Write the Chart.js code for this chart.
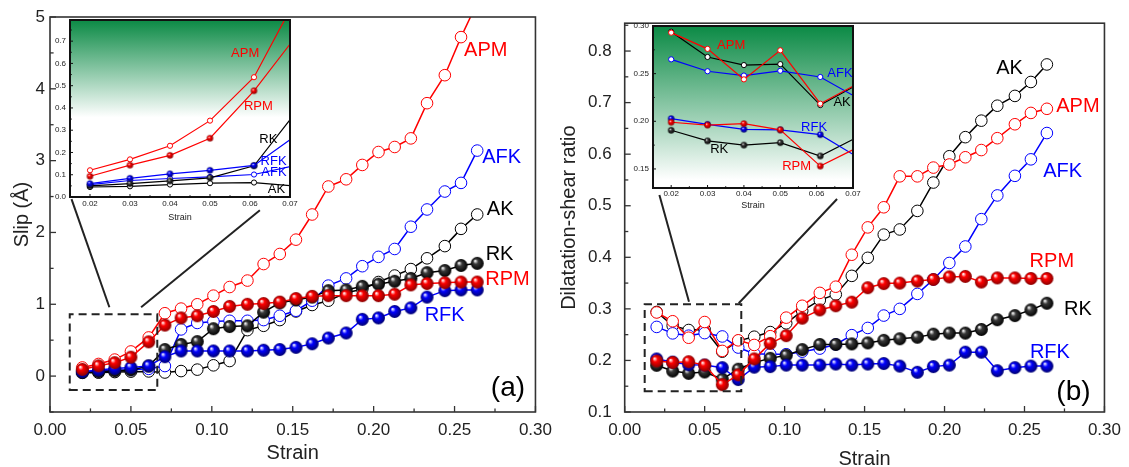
<!DOCTYPE html>
<html>
<head>
<meta charset="utf-8">
<script src="https://cdn.jsdelivr.net/npm/chart.js@4/dist/chart.umd.min.js"></script>
<style>
  body { margin: 0; background: #fff; width: 1129px; height: 467px; position: relative; overflow: hidden; }
  canvas { position: absolute; }
</style>
</head>
<body>
<canvas id="slipChart" width="560" height="467" style="left:0;top:0"></canvas>
<canvas id="slipInset" width="270" height="230" style="left:30px;top:0"></canvas>
<canvas id="ratioChart" width="579" height="467" style="left:550px;top:0"></canvas>
<canvas id="ratioInset" width="250" height="215" style="left:613px;top:6px"></canvas>
<script>
// strain steps shared by both panels
const strain = [0.020, 0.030, 0.040, 0.050, 0.061, 0.071, 0.081, 0.091, 0.101, 0.111, 0.122, 0.132, 0.142,
  0.152, 0.162, 0.172, 0.183, 0.193, 0.203, 0.213, 0.223, 0.233, 0.244, 0.254, 0.264];

// (a) slip, in angstrom
const slipAK = [0.045, 0.048, 0.056, 0.062, 0.065, 0.05, 0.07, 0.09, 0.15, 0.21, 0.64, 0.70, 0.78,
  0.90, 0.99, 1.05, 1.16, 1.21, 1.31, 1.40, 1.49, 1.64, 1.81, 2.05, 2.25];
const slipRK = [0.05, 0.06, 0.072, 0.086, 0.14, 0.37, 0.44, 0.48, 0.66, 0.69, 0.70, 0.89, 1.02,
  1.06, 1.10, 1.19, 1.20, 1.25, 1.28, 1.32, 1.36, 1.44, 1.47, 1.54, 1.57];
const slipAFK = [0.056, 0.074, 0.083, 0.09, 0.101, 0.14, 0.65, 0.74, 0.76, 0.77, 0.77, 0.78, 0.84,
  0.91, 1.05, 1.26, 1.36, 1.53, 1.66, 1.77, 2.08, 2.32, 2.57, 2.69, 3.14];
const slipRFK = [0.06, 0.084, 0.104, 0.12, 0.142, 0.27, 0.35, 0.35, 0.35, 0.35, 0.35, 0.36, 0.37,
  0.40, 0.45, 0.53, 0.60, 0.79, 0.81, 0.90, 0.95, 1.10, 1.19, 1.20, 1.20];
const slipAPM = [0.12, 0.169, 0.23, 0.343, 0.538, 0.875, 0.94, 1.0, 1.12, 1.24, 1.33, 1.56, 1.70,
  1.90, 2.25, 2.64, 2.74, 2.94, 3.12, 3.19, 3.31, 3.80, 4.19, 4.72, 5.2];
const slipRPM = [0.093, 0.143, 0.187, 0.264, 0.477, 0.71, 0.81, 0.84, 0.90, 0.97, 1.0, 1.01, 1.03,
  1.08, 1.11, 1.12, 1.12, 1.12, 1.12, 1.14, 1.27, 1.29, 1.30, 1.31, 1.31];

// (b) dilatation-shear ratio
const ratioAK = [0.294, 0.2675, 0.259, 0.26, 0.217, 0.238, 0.246, 0.255, 0.272, 0.296, 0.317, 0.328, 0.364,
  0.399, 0.444, 0.454, 0.490, 0.545, 0.596, 0.633, 0.665, 0.694, 0.713, 0.740, 0.774];
const ratioRK = [0.1906, 0.1794, 0.175, 0.1776, 0.1636, 0.183, 0.196, 0.204, 0.210, 0.221, 0.231, 0.231, 0.232,
  0.234, 0.239, 0.242, 0.245, 0.251, 0.253, 0.253, 0.260, 0.279, 0.287, 0.298, 0.311];
const ratioAFK = [0.265, 0.2525, 0.248, 0.253, 0.2465, 0.225, 0.213, 0.212, 0.212, 0.217, 0.223, 0.231, 0.249,
  0.263, 0.287, 0.300, 0.329, 0.357, 0.389, 0.421, 0.474, 0.520, 0.558, 0.590, 0.641];
const ratioRFK = [0.2028, 0.1968, 0.1916, 0.191, 0.186, 0.163, 0.187, 0.188, 0.191, 0.191, 0.191, 0.193, 0.191,
  0.193, 0.194, 0.189, 0.177, 0.188, 0.191, 0.216, 0.216, 0.180, 0.186, 0.189, 0.189];
const ratioAPM = [0.293, 0.276, 0.244, 0.2745, 0.2185, 0.239, 0.230, 0.247, 0.283, 0.306, 0.331, 0.343, 0.405,
  0.458, 0.497, 0.557, 0.557, 0.574, 0.580, 0.594, 0.608, 0.631, 0.658, 0.680, 0.688];
const ratioRPM = [0.199, 0.196, 0.1975, 0.191, 0.153, 0.172, 0.203, 0.233, 0.248, 0.282, 0.298, 0.306, 0.313,
  0.341, 0.349, 0.350, 0.354, 0.357, 0.362, 0.363, 0.352, 0.360, 0.360, 0.359, 0.359];

const FONT = '"Liberation Sans", Arial, sans-serif';
const RED = '#ff0000';
const BLUE = '#0000ff';
const BLACK = '#000000';
const INK = '#222';

Chart.defaults.font.family = FONT;
Chart.defaults.color = INK;

// shaded "3D ball" marker drawn once per colour and size
function ball(color, dark, r) {
  const c = document.createElement('canvas');
  const d = Math.ceil(r * 2) + 2;
  c.width = c.height = d;
  const g = c.getContext('2d');
  const m = d / 2;
  const grad = g.createRadialGradient(m - r * 0.35, m - r * 0.4, r * 0.05, m, m, r);
  grad.addColorStop(0, '#ffffff');
  grad.addColorStop(0.35, color);
  grad.addColorStop(1, dark);
  g.fillStyle = grad;
  g.beginPath();
  g.arc(m, m, r, 0, Math.PI * 2);
  g.fill();
  return c;
}

const darkOf = { [RED]: '#8a0000', [BLUE]: '#00006e', [BLACK]: '#000000' };
const midOf = { [RED]: RED, [BLUE]: BLUE, [BLACK]: '#3a3a3a' };

function series(name, values, color, filled) {
  return { name, values, color, filled };
}

// Chart.js paints the first dataset last, so the shaded-ball series go first
const slipSeries = [
  series('RPM', slipRPM, RED, true),
  series('RFK', slipRFK, BLUE, true),
  series('RK', slipRK, BLACK, true),
  series('APM', slipAPM, RED, false),
  series('AFK', slipAFK, BLUE, false),
  series('AK', slipAK, BLACK, false),
];
const ratioSeries = [
  series('RPM', ratioRPM, RED, true),
  series('RFK', ratioRFK, BLUE, true),
  series('RK', ratioRK, BLACK, true),
  series('APM', ratioAPM, RED, false),
  series('AFK', ratioAFK, BLUE, false),
  series('AK', ratioAK, BLACK, false),
];

function dataset(s, m) {
  return {
    label: s.name,
    data: strain.map((x, i) => ({ x, y: s.values[i] })),
    borderColor: s.color,
    borderWidth: m.line,
    pointStyle: s.filled ? ball(midOf[s.color], darkOf[s.color], m.ball) : 'circle',
    pointRadius: m.open,
    pointBorderWidth: m.ring,
    pointBorderColor: s.color,
    pointBackgroundColor: '#ffffff',
    tension: 0,
  };
}

// box around the plot and inward major/minor ticks on bottom and left
const framePlugin = {
  id: 'frame',
  afterDraw(chart, args, o) {
    if (!o || !o.x) return;
    const { ctx, chartArea: a, scales } = chart;
    ctx.save();
    ctx.strokeStyle = o.color;
    ctx.lineWidth = o.width;
    ctx.strokeRect(a.left, a.top, a.right - a.left, a.bottom - a.top);
    const ticks = (scale, t, horiz) => {
      const n0 = Math.ceil(scale.min / t.minor - 1e-6);
      const n1 = Math.floor(scale.max / t.minor + 1e-6);
      for (let n = n0; n <= n1; n++) {
        const v = n * t.minor;
        const q = v / t.major;
        const len = Math.abs(q - Math.round(q)) < 1e-6 ? t.len : t.len * 0.6;
        const p = scale.getPixelForValue(v);
        ctx.beginPath();
        if (horiz) { ctx.moveTo(p, a.bottom); ctx.lineTo(p, a.bottom - len); }
        else { ctx.moveTo(a.left, p); ctx.lineTo(a.left + len, p); }
        ctx.stroke();
      }
    };
    ctx.lineWidth = o.tickWidth;
    ticks(scales.x, o.x, true);
    ticks(scales.y, o.y, false);
    ctx.restore();
  },
};

// series names, panel letters, zoom box and its connector lines, placed in data units
const notesPlugin = {
  id: 'notes',
  afterDatasetsDraw(chart, args, o) {
    if (!o) return;
    const { ctx, scales: { x, y } } = chart;
    ctx.save();
    (o.lines || []).forEach((l) => {
      ctx.strokeStyle = INK;
      ctx.lineWidth = l.width;
      ctx.setLineDash(l.dash || []);
      ctx.beginPath();
      l.pts.forEach(([px, py], i) => {
        const X = x.getPixelForValue(px);
        const Y = y.getPixelForValue(py);
        if (i) ctx.lineTo(X, Y); else ctx.moveTo(X, Y);
      });
      if (l.closed) ctx.closePath();
      ctx.stroke();
    });
    ctx.setLineDash([]);
    ctx.textAlign = 'center';
    ctx.textBaseline = 'middle';
    (o.texts || []).forEach((t) => {
      ctx.font = `${t.size}px ${FONT}`;
      ctx.fillStyle = t.color;
      ctx.fillText(t.text, x.getPixelForValue(t.x), y.getPixelForValue(t.y));
    });
    ctx.restore();
  },
};

// green-to-white backdrop of the insets
const shadePlugin = {
  id: 'shade',
  beforeDatasetsDraw(chart, args, o) {
    if (!o || !o.stops) return;
    const { ctx, chartArea: a } = chart;
    const g = ctx.createLinearGradient(0, a.top, 0, a.bottom);
    o.stops.forEach(([p, c]) => g.addColorStop(p, c));
    ctx.save();
    ctx.fillStyle = g;
    ctx.fillRect(a.left, a.top, a.right - a.left, a.bottom - a.top);
    ctx.restore();
  },
};

function scaleOpts(a) {
  return {
    type: 'linear',
    min: a.min,
    max: a.max,
    grid: { display: false, drawTicks: false },
    border: { display: false },
    ticks: {
      stepSize: a.step,
      includeBounds: false,
      autoSkip: false,
      maxRotation: 0,
      padding: a.pad,
      color: INK,
      font: { size: a.size },
      callback: (v) => Number(v).toFixed(a.digits),
    },
    title: {
      display: !!a.title,
      text: a.title,
      color: INK,
      font: { size: a.titleSize, lineHeight: 1 },
      padding: { top: a.titlePad, bottom: a.titlePad },
    },
    afterFit: (s) => {
      if (s.isHorizontal()) s.height = a.fit; else s.width = a.fit;
    },
  };
}

function makeChart(id, cfg) {
  return new Chart(document.getElementById(id), {
    type: 'line',
    data: { datasets: cfg.series.map((s) => dataset(s, cfg.marks)) },
    options: {
      responsive: false,
      animation: false,
      events: [],
      layout: { padding: cfg.padding },
      plugins: {
        legend: { display: false },
        tooltip: { enabled: false },
        frame: cfg.frame,
        notes: cfg.notes,
        shade: cfg.shade || {},
      },
      scales: { x: scaleOpts(cfg.x), y: scaleOpts(cfg.y) },
    },
    plugins: [shadePlugin, notesPlugin, framePlugin],
  });
}

const mainMarks = { line: 1.5, open: 5.8, ring: 1, ball: 6.5 };
const insetMarks = { line: 1.2, open: 2.6, ring: 1, ball: 3.2 };
const greenTop = '#0b8a45';

const label = (text, x, y, color, size) => ({ text, x, y, color, size });

// panel (a)
makeChart('slipChart', {
  series: slipSeries,
  marks: mainMarks,
  padding: { left: 0, top: 17, right: 21, bottom: 0 },
  x: { min: 0, max: 0.3, step: 0.05, digits: 2, size: 17, pad: 8, fit: 55,
       title: 'Strain', titleSize: 20, titlePad: 4 },
  y: { min: -0.5, max: 5, step: 1, digits: 0, size: 17, pad: 5, fit: 50,
       title: 'Slip (Å)', titleSize: 20, titlePad: 12 },
  frame: { color: '#333', width: 1.6, tickWidth: 1.3,
           x: { major: 0.05, minor: 0.025, len: 6 }, y: { major: 1, minor: 0.5, len: 6 } },
  notes: {
    lines: [
      { width: 2, dash: [8, 5], closed: true,
        pts: [[0.0122, -0.195], [0.0663, -0.195], [0.0663, 0.86], [0.0122, 0.86]] },
      { width: 2, pts: [[0.0133, 2.465], [0.0367, 0.958]] },
      { width: 2, pts: [[0.1297, 2.31], [0.0563, 0.958]] },
    ],
    texts: [
      label('APM', 0.2693, 4.53, RED, 20),
      label('AFK', 0.2791, 3.05, BLUE, 20),
      label('AK', 0.2782, 2.32, BLACK, 20),
      label('RK', 0.2778, 1.70, BLACK, 20),
      label('RPM', 0.2827, 1.35, RED, 20),
      label('RFK', 0.2439, 0.847, BLUE, 20),
      label('(a)', 0.2830, -0.17, BLACK, 28),
    ],
  },
});

makeChart('slipInset', {
  series: slipSeries,
  marks: insetMarks,
  padding: { left: 0, top: 20, right: 10, bottom: 0 },
  x: { min: 0.015, max: 0.07, step: 0.01, digits: 2, size: 8, pad: 2, fit: 33,
       title: 'Strain', titleSize: 9, titlePad: 7.5 },
  y: { min: 0, max: 0.795, step: 0.1, digits: 1, size: 8, pad: 4, fit: 40 },
  frame: { color: '#111', width: 2, tickWidth: 1,
           x: { major: 0.01, minor: 0.005, len: 3 }, y: { major: 0.1, minor: 0.05, len: 3 } },
  shade: { stops: [[0, greenTop], [0.55, '#ffffff'], [1, '#ffffff']] },
  notes: {
    texts: [
      label('APM', 0.0588, 0.647, RED, 13),
      label('RPM', 0.0621, 0.407, RED, 13),
      label('RK', 0.0646, 0.258, BLACK, 13),
      label('RFK', 0.0659, 0.158, BLUE, 13),
      label('AFK', 0.0660, 0.109, BLUE, 13),
      label('AK', 0.0666, 0.036, BLACK, 13),
    ],
  },
});

// panel (b)
makeChart('ratioChart', {
  series: ratioSeries,
  marks: mainMarks,
  padding: { left: 0, top: 18.3, right: 17, bottom: 0 },
  x: { min: 0, max: 0.3, step: 0.05, digits: 2, size: 17, pad: 8, fit: 55,
       title: 'Strain', titleSize: 20, titlePad: -2 },
  y: { min: 0.1, max: 0.854, step: 0.1, digits: 1, size: 17, pad: 13, fit: 74.7,
       title: 'Dilatation-shear ratio', titleSize: 20, titlePad: 9 },
  frame: { color: '#333', width: 1.6, tickWidth: 1.3,
           x: { major: 0.05, minor: 0.025, len: 6 }, y: { major: 0.1, minor: 0.05, len: 6 } },
  notes: {
    lines: [
      { width: 2, dash: [8, 5], closed: true,
        pts: [[0.0125, 0.140], [0.0729, 0.140], [0.0729, 0.309], [0.0125, 0.309]] },
      { width: 2, pts: [[0.0217, 0.521], [0.0402, 0.314]] },
      { width: 2, pts: [[0.1328, 0.513], [0.0713, 0.311]] },
    ],
    texts: [
      label('AK', 0.2407, 0.766, BLACK, 20),
      label('APM', 0.2834, 0.693, RED, 20),
      label('AFK', 0.2739, 0.567, BLUE, 20),
      label('RPM', 0.2671, 0.3925, RED, 20),
      label('RK', 0.2834, 0.2987, BLACK, 20),
      label('RFK', 0.2659, 0.2163, BLUE, 20),
      label('(b)', 0.2806, 0.1378, BLACK, 28),
    ],
  },
});

makeChart('ratioInset', {
  series: ratioSeries,
  marks: insetMarks,
  padding: { left: 0, top: 20, right: 10, bottom: 0 },
  x: { min: 0.015, max: 0.07, step: 0.01, digits: 2, size: 8, pad: 0.5, fit: 33,
       title: 'Strain', titleSize: 9, titlePad: 10.5 },
  y: { min: 0.13, max: 0.30, step: 0.05, digits: 2, size: 8, pad: 4, fit: 40 },
  frame: { color: '#111', width: 2, tickWidth: 1,
           x: { major: 0.01, minor: 0.005, len: 3 }, y: { major: 0.05, minor: 0.025, len: 3 } },
  shade: { stops: [[0, greenTop], [0.95, '#ffffff'], [1, '#ffffff']] },
  notes: {
    texts: [
      label('APM', 0.0365, 0.280, RED, 13),
      label('AFK', 0.0664, 0.2507, BLUE, 13),
      label('AK', 0.0670, 0.2203, BLACK, 13),
      label('RFK', 0.0593, 0.194, BLUE, 13),
      label('RK', 0.0332, 0.170, BLACK, 13),
      label('RPM', 0.0545, 0.153, RED, 13),
    ],
  },
});
</script>
</body>
</html>
